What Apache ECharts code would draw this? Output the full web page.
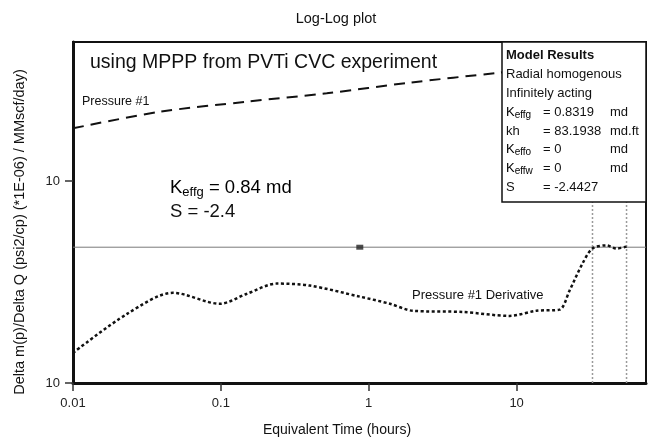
<!DOCTYPE html>
<html>
<head>
<meta charset="utf-8">
<script src="https://cdn.jsdelivr.net/npm/echarts@6/dist/echarts.min.js"></script>
<style>
  html, body { margin: 0; padding: 0; background: #fff; }
  #chart { width: 655px; height: 444px; }
</style>
</head>
<body>
<div id="chart"></div>
<script>
const FONT = '"Liberation Sans", Arial, sans-serif';

// Axis ranges and ticks
const xRange = [0.01, 75];
const yRange = [1, 49];
const xTicks = [0.01, 0.1, 1, 10];
const xTickLabels = ['0.01', '0.1', '1', '10'];
const yTicks = [1, 10];
const yTickLabels = ['10', '10'];

// Pressure #1 curve: equivalent time (h) and value
const pressureTime  = [0.01, 0.0387, 0.15, 0.52, 1.89, 7.33, 20, 75];
const pressureValue = [18.3, 22.1, 24.8, 27.3, 30.8, 34.4, 37.0, 40.0];

// Pressure #1 derivative curve
const derivTime  = [0.01, 0.0232, 0.0474, 0.0984, 0.150, 0.239, 0.399, 0.869, 1.39, 1.98, 4.31, 8.97, 13.6, 19.5, 22.8, 27.9, 32.6, 40.6, 47.4, 55.4];
const derivValue = [1.41, 2.20, 2.80, 2.47, 2.77, 3.11, 3.04, 2.68, 2.47, 2.28, 2.25, 2.15, 2.28, 2.31, 2.87, 3.91, 4.64, 4.81, 4.64, 4.74];

// Radial flow stabilisation level, its marker, and the analysis window
const stabLevel = 4.71;
const stabMarkerTime = 0.87;
const windowTimes = [32.6, 55.4];

const zip = (a, b) => a.map((v, i) => [v, b[i]]);

const chart = echarts.init(document.getElementById('chart'), null, { renderer: 'canvas' });

const windowSeries = windowTimes.map(t => ({
  type: 'line',
  data: [[t, yRange[0]], [t, yRange[1]]],
  symbol: 'none',
  silent: true,
  lineStyle: { color: '#9a9a9a', width: 1.5, type: [2, 2] },
  z: 1
}));

const boxX = 502, boxY = 42, boxW = 144, boxH = 160;
const rowY = [55, 74, 93, 112, 131, 149, 168, 187];
const colA = 506, colB = 543, colC = 610;
const boxFont = { fontFamily: FONT, fontSize: 13, fill: '#111' };

function boxText(x, y, text, extra) {
  return {
    type: 'text', x: x, y: y, z: 101,
    style: Object.assign({ text: text, verticalAlign: 'middle', align: 'left' }, boxFont, extra || {})
  };
}
function boxKey(x, y, main, sub) {
  return {
    type: 'text', x: x, y: y, z: 101,
    style: {
      text: '{m|' + main + '}{s|' + sub + '}',
      verticalAlign: 'middle', align: 'left',
      rich: {
        m: { fontFamily: FONT, fontSize: 13, color: '#111', lineHeight: 16 },
        s: { fontFamily: FONT, fontSize: 10, color: '#111', lineHeight: 12, verticalAlign: 'bottom' }
      }
    }
  };
}

const option = {
  backgroundColor: '#fff',
  animation: false,
  title: {
    text: 'Log-Log plot',
    left: 331, top: 6, textAlign: 'center',
    textStyle: { fontFamily: FONT, fontSize: 14.5, fontWeight: 'normal', color: '#111' }
  },
  grid: {
    left: 73, right: 9, top: 42, bottom: 61,
    show: true, borderColor: '#111', borderWidth: 2
  },
  xAxis: {
    type: 'log', logBase: 10,
    min: xRange[0], max: xRange[1],
    axisLine: { show: true, lineStyle: { color: '#111', width: 3 } },
    axisTick: { show: true, customValues: xTicks, length: 8, lineStyle: { color: '#333', width: 1.5 } },
    axisLabel: {
      customValues: xTicks,
      margin: 14,
      fontFamily: FONT, fontSize: 13, color: '#222',
      formatter: v => {
        const i = xTicks.findIndex(t => Math.abs(Math.log10(t) - Math.log10(v)) < 1e-6);
        return i >= 0 ? xTickLabels[i] : '';
      }
    },
    splitLine: { show: false },
    minorTick: { show: false }
  },
  yAxis: {
    type: 'log', logBase: 10,
    min: yRange[0], max: yRange[1],
    axisLine: { show: true, lineStyle: { color: '#111', width: 3 } },
    axisTick: { show: true, customValues: yTicks, length: 8, lineStyle: { color: '#333', width: 1.5 } },
    axisLabel: {
      customValues: yTicks,
      margin: 13,
      fontFamily: FONT, fontSize: 13, color: '#222',
      formatter: v => {
        const i = yTicks.findIndex(t => Math.abs(Math.log10(t) - Math.log10(v)) < 1e-6);
        return i >= 0 ? yTickLabels[i] : '';
      }
    },
    splitLine: { show: false }
  },
  series: [
    ...windowSeries,
    {
      type: 'line',
      data: [[xRange[0], stabLevel], [xRange[1], stabLevel]],
      symbol: 'none', silent: true,
      lineStyle: { color: '#7a7a7a', width: 1 },
      z: 2
    },
    {
      name: 'Pressure #1',
      type: 'line',
      data: zip(pressureTime, pressureValue),
      symbol: 'none', smooth: 0.3,
      lineStyle: { color: '#111', width: 2, type: [11, 7] },
      z: 3
    },
    {
      name: 'Pressure #1 Derivative',
      type: 'line',
      data: zip(derivTime, derivValue),
      symbol: 'none', smooth: 0.3,
      lineStyle: { color: '#111', width: 2.5, type: [3, 2.5] },
      z: 3
    },
    {
      type: 'scatter',
      data: [[stabMarkerTime, stabLevel]],
      symbol: 'rect', symbolSize: [7, 5],
      itemStyle: { color: '#222' },
      z: 4
    }
  ],
  graphic: [
    {
      type: 'text', x: 20, y: 232, rotation: Math.PI / 2, z: 50,
      style: {
        text: 'Delta m(p)/Delta Q (psi2/cp) (*1E-06) / MMscf/day)',
        fontFamily: FONT, fontSize: 14.5, fill: '#111',
        align: 'center', verticalAlign: 'middle'
      }
    },
    {
      type: 'text', x: 337, y: 430, z: 50,
      style: {
        text: 'Equivalent Time (hours)',
        fontFamily: FONT, fontSize: 14, fill: '#111',
        align: 'center', verticalAlign: 'middle'
      }
    },
    {
      type: 'text', x: 90, y: 63, z: 50,
      style: {
        text: 'using MPPP from PVTi CVC experiment',
        fontFamily: FONT, fontSize: 19.5, fill: '#111',
        align: 'left', verticalAlign: 'middle'
      }
    },
    {
      type: 'text', x: 82, y: 102, z: 50,
      style: {
        text: 'Pressure #1',
        fontFamily: FONT, fontSize: 12.5, fill: '#111',
        align: 'left', verticalAlign: 'middle'
      }
    },
    {
      type: 'text', x: 412, y: 295, z: 50,
      style: {
        text: 'Pressure #1 Derivative',
        fontFamily: FONT, fontSize: 13, fill: '#111',
        align: 'left', verticalAlign: 'middle'
      }
    },
    {
      type: 'text', x: 170, y: 188, z: 50,
      style: {
        text: '{m|K}{s|effg}{m| = 0.84 md}',
        align: 'left', verticalAlign: 'middle',
        rich: {
          m: { fontFamily: FONT, fontSize: 18.5, color: '#111', lineHeight: 22 },
          s: { fontFamily: FONT, fontSize: 13, color: '#111', lineHeight: 15, verticalAlign: 'bottom' }
        }
      }
    },
    {
      type: 'text', x: 170, y: 212, z: 50,
      style: {
        text: 'S = -2.4',
        fontFamily: FONT, fontSize: 18.5, fill: '#111',
        align: 'left', verticalAlign: 'middle'
      }
    },
    {
      type: 'rect', z: 100,
      shape: { x: boxX, y: boxY, width: boxW, height: boxH },
      style: { fill: '#fff', stroke: '#111', lineWidth: 1.5 }
    },
    boxText(colA, rowY[0], 'Model Results', { fontWeight: 'bold' }),
    boxText(colA, rowY[1], 'Radial homogenous'),
    boxText(colA, rowY[2], 'Infinitely acting'),
    boxKey(colA, rowY[3], 'K', 'effg'),
    boxText(colB, rowY[3], '= 0.8319'),
    boxText(colC, rowY[3], 'md'),
    boxText(colA, rowY[4], 'kh'),
    boxText(colB, rowY[4], '= 83.1938'),
    boxText(colC, rowY[4], 'md.ft'),
    boxKey(colA, rowY[5], 'K', 'effo'),
    boxText(colB, rowY[5], '= 0'),
    boxText(colC, rowY[5], 'md'),
    boxKey(colA, rowY[6], 'K', 'effw'),
    boxText(colB, rowY[6], '= 0'),
    boxText(colC, rowY[6], 'md'),
    boxText(colA, rowY[7], 'S'),
    boxText(colB, rowY[7], '= -2.4427')
  ]
};

chart.setOption(option);
</script>
</body>
</html>
